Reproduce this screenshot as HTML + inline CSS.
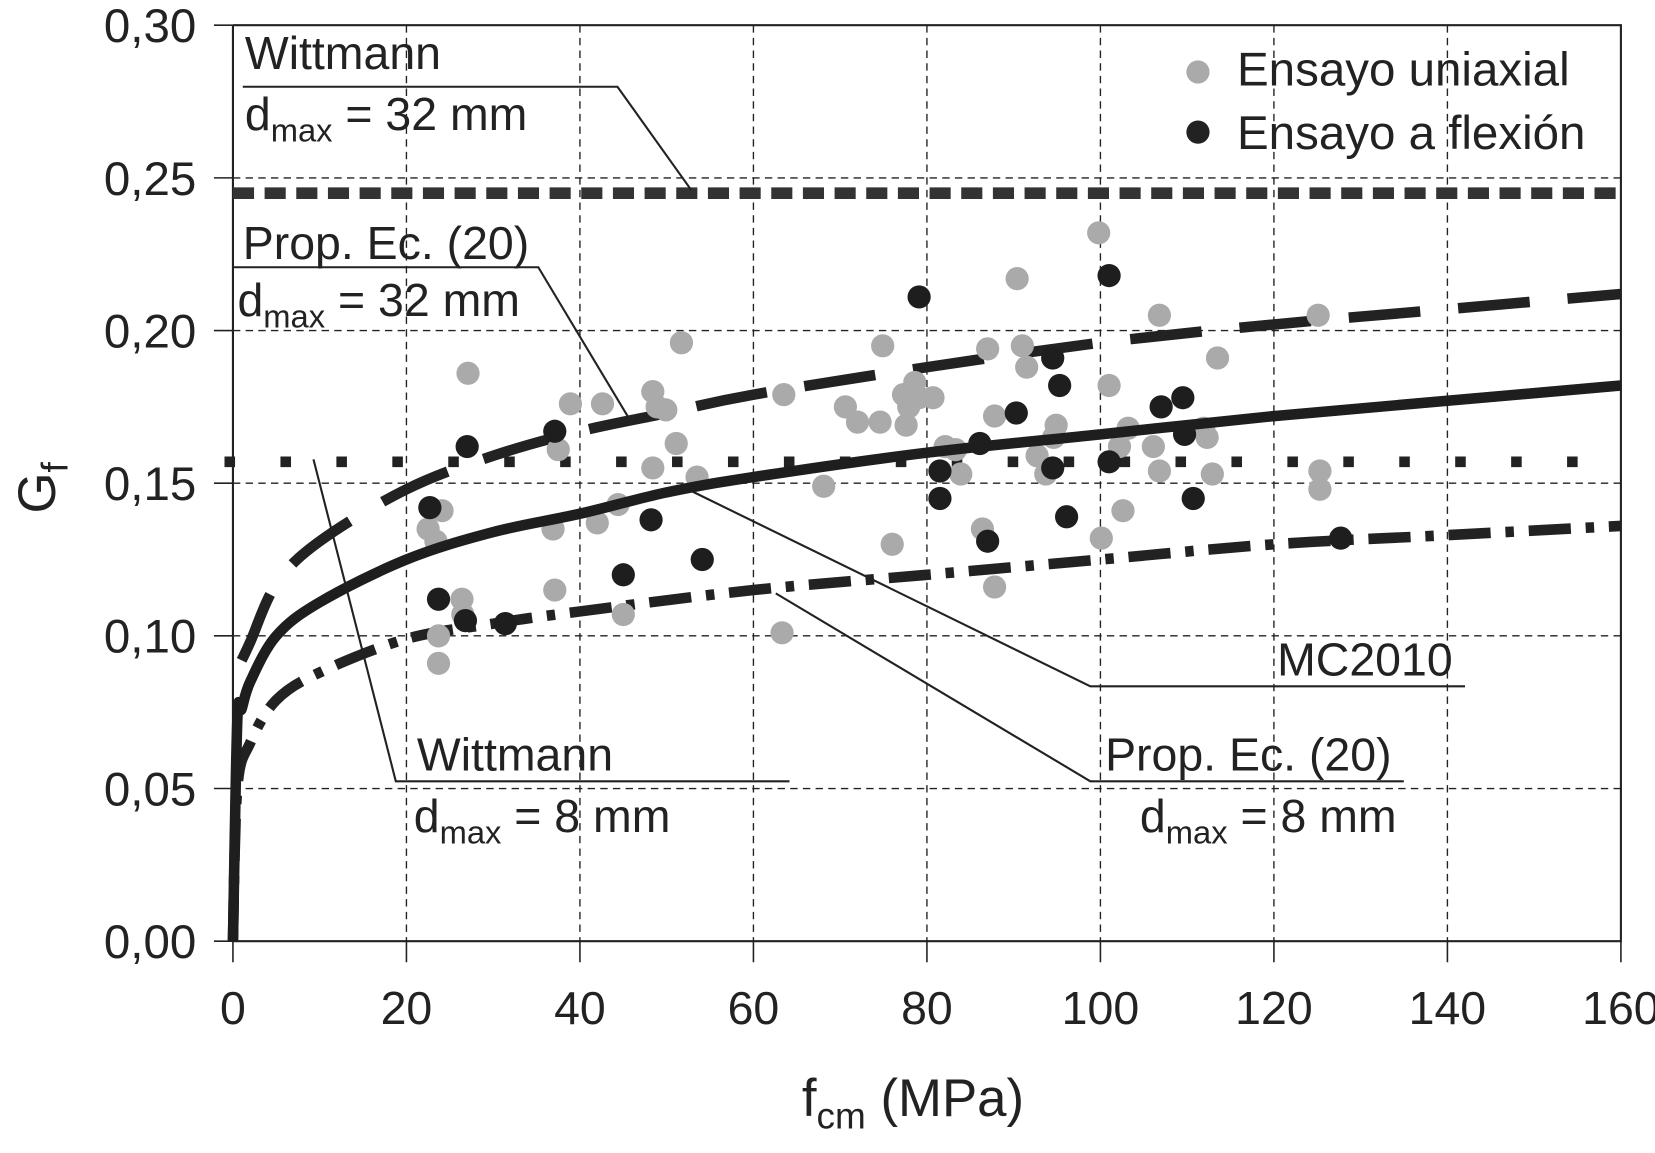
<!DOCTYPE html>
<html><head><meta charset="utf-8"><style>
html,body{margin:0;padding:0;background:#fff}
svg{display:block}
text{font-family:"Liberation Sans",Arial,sans-serif;fill:#222}
</style></head><body>
<svg id="chart" width="1655" height="1153" viewBox="0 0 1568 1092" xmlns="http://www.w3.org/2000/svg">
<g id="grid"></g>
<g id="axes"></g>
<g id="curves"></g>
<g id="points"></g>
<g id="annot">
  <text x="232" y="65" font-size="44">Wittmann</text>
  <text x="232" y="123" font-size="44">d<tspan font-size="31" dy="11">max</tspan><tspan dy="-11"> = 32 mm</tspan></text>
  <polyline points="230,82 585,82 655,180" fill="none" stroke="#222" stroke-width="2"/>
  <text x="230" y="245" font-size="44">Prop. Ec. (20)</text>
  <text x="225" y="299" font-size="44">d<tspan font-size="31" dy="11">max</tspan><tspan dy="-11"> = 32 mm</tspan></text>
  <polyline points="220,253 510,253 597,398" fill="none" stroke="#222" stroke-width="2"/>
  <text x="395" y="730" font-size="44">Wittmann</text>
  <text x="392" y="788" font-size="44">d<tspan font-size="31" dy="11">max</tspan><tspan dy="-11"> = 8 mm</tspan></text>
  <polyline points="748,740 375,740 297,435" fill="none" stroke="#222" stroke-width="2"/>
  <text x="1210" y="640" font-size="44">MC2010</text>
  <polyline points="1388,650 1033,650 655,465" fill="none" stroke="#222" stroke-width="2"/>
  <text x="1047" y="730" font-size="44">Prop. Ec. (20)</text>
  <text x="1080" y="788" font-size="44">d<tspan font-size="31" dy="11">max</tspan><tspan dy="-11"> = 8 mm</tspan></text>
  <polyline points="1330,740 1033,740 735,562" fill="none" stroke="#222" stroke-width="2"/>
</g>
<g id="legend">
  <circle cx="1135" cy="68" r="11" fill="#aaa"/>
  <text x="1172" y="81" font-size="45">Ensayo uniaxial</text>
  <circle cx="1135" cy="125" r="11" fill="#222"/>
  <text x="1172" y="141" font-size="45">Ensayo a flexión</text>
</g>
</svg>
<script>
const xTicks=[0,20,40,60,80,100,120,140,160];
const yTicks=[0,0.05,0.10,0.15,0.20,0.25,0.30];
const yTickLabels=["0,00","0,05","0,10","0,15","0,20","0,25","0,30"];
const uniX=[22.5,24.1,23.4,23.7,23.7,27.1,26.4,26.5,37.5,36.9,37.1,38.9,42,42.6,44.4,45,48.4,48.9,49.9,48.4,51.7,51.1,53.5,63.5,63.3,68.1,70.6,72,74.9,74.6,76,77.3,77.9,77.6,78.6,79.1,80.7,82.1,83.3,83.9,86.4,87,87.8,87.8,90.4,91,91.5,92.7,93.7,94.9,94.6,99.8,100.1,101,102.2,102.6,103.2,106.8,106.1,106.8,111.9,112.3,113.5,112.9,125.1,125.3,125.3];
const uniY=[.135,.141,.131,.100,.091,.186,.112,.107,.161,.135,.115,.176,.137,.176,.143,.107,.180,.175,.174,.155,.196,.163,.152,.179,.101,.149,.175,.170,.195,.170,.130,.179,.175,.169,.183,.178,.178,.162,.161,.153,.135,.194,.116,.172,.217,.195,.188,.159,.153,.169,.165,.232,.132,.182,.162,.141,.168,.205,.162,.154,.168,.165,.191,.153,.205,.154,.148];
const flexX=[22.7,23.7,26.8,27,31.4,37.1,45,48.2,54.1,79.1,81.5,81.5,86.1,87,90.3,94.5,95.3,96.1,94.5,101,101,107,109.5,109.7,110.7,127.7];
const flexY=[.142,.112,.105,.162,.104,.167,.120,.138,.125,.211,.154,.145,.163,.131,.173,.191,.182,.139,.155,.218,.157,.175,.178,.166,.145,.132];
const mcX=[0,0.5,1,2,5,10,20,30,40,50,60,80,100,120,140,160];
const mcY=[0,0.072,0.076,0.085,0.100,0.111,0.125,0.134,0.140,0.147,0.152,0.160,0.166,0.172,0.177,0.182];
const p32X=[1,2,5,10,20,30,40,50,60,80,100,120,140,160];
const p32Y=[0.092,0.098,0.117,0.131,0.148,0.159,0.167,0.173,0.179,0.188,0.196,0.202,0.207,0.212];
const p8X=[0,0.5,2,5,10,20,30,40,60,80,100,120,140,160];
const p8Y=[0,0.05,0.065,0.079,0.088,0.099,0.104,0.108,0.115,0.120,0.125,0.130,0.133,0.136];
const w32Y=[0.245];
const w8Y=[0.157];

const NS="http://www.w3.org/2000/svg";
const X0=220.7,X1=1535.7,Y0=891.5,Y1=23.7;
const sx=v=>X0+(v-0)/(160-0)*(X1-X0);
const sy=v=>Y0-(v-0)/(0.30-0)*(Y0-Y1);
function mk(tag,attrs,parent){const e=document.createElementNS(NS,tag);for(const k in attrs)e.setAttribute(k,attrs[k]);parent.appendChild(e);return e;}
const grid=document.getElementById('grid'),axes=document.getElementById('axes'),curves=document.getElementById('curves'),points=document.getElementById('points');

xTicks.forEach((t,i)=>{
  if(i>0&&i<xTicks.length-1){const l=mk('line',{x1:sx(t),x2:sx(t),y1:Y1,y2:Y0,stroke:'#222','stroke-width':1.3,'stroke-dasharray':'7,5'},grid);
  
  }
  const tk=mk('line',{x1:sx(t),x2:sx(t),y1:Y0,y2:Y0+20,stroke:'#222','stroke-width':1.5},axes);
  
  
  const tx=mk('text',{x:sx(t),y:970,'font-size':44,'text-anchor':'middle'},axes);tx.textContent=t;
  
  
});
yTicks.forEach((t,i)=>{
  if(i>0&&i<yTicks.length-1){const l=mk('line',{x1:X0,x2:X1,y1:sy(t),y2:sy(t),stroke:'#222','stroke-width':1.3,'stroke-dasharray':'7,5'},grid);
  
  }
  const tk=mk('line',{x1:X0-18,x2:X0,y1:sy(t),y2:sy(t),stroke:'#222','stroke-width':1.5},axes);
  
  
  const tx=mk('text',{x:186,y:sy(t)+16,'font-size':45,'text-anchor':'end'},axes);tx.textContent=yTickLabels[i];
  
  
});
const fr=mk('polyline',{points:`${X0},${Y1} ${X0},${Y0} ${X1},${Y0} ${X1},${Y1} ${X0},${Y1}`,fill:'none',stroke:'#222','stroke-width':2},axes);


const xt=mk('text',{x:865,y:1057,'font-size':50,'text-anchor':'middle'},axes);
xt.innerHTML='f<tspan font-size="35" dy="12">cm</tspan><tspan dy="-12"> (MPa)</tspan>';


const yt=mk('text',{x:0,y:0,'font-size':50,'text-anchor':'middle',transform:'translate(52,462) rotate(-90)'},axes);
yt.innerHTML='G<tspan font-size="35" dy="12">f</tspan>';



function path(xs,ys){
  const P=xs.map((x,i)=>[sx(x),sy(ys[i])]);
  let d='M'+P[0][0].toFixed(1)+','+P[0][1].toFixed(1);
  for(let i=0;i<P.length-1;i++){
    const p0=P[Math.max(0,i-1)],p1=P[i],p2=P[i+1],p3=P[Math.min(P.length-1,i+2)];
    const c1=[p1[0]+(p2[0]-p0[0])/6,p1[1]+(p2[1]-p0[1])/6];
    const c2=[p2[0]-(p3[0]-p1[0])/6,p2[1]-(p3[1]-p1[1])/6];
    d+=` C${c1[0].toFixed(1)},${c1[1].toFixed(1)} ${c2[0].toFixed(1)},${c2[1].toFixed(1)} ${p2[0].toFixed(1)},${p2[1].toFixed(1)}`;
  }
  return d;
}
const w32=mk('line',{x1:X0,x2:X1,y1:sy(w32Y[0]),y2:sy(w32Y[0]),stroke:'#333','stroke-width':11,'stroke-dasharray':'20,10'},curves);


const w8=mk('line',{x1:X0-8,x2:1500,y1:sy(w8Y[0]),y2:sy(w8Y[0]),stroke:'#222','stroke-width':10,'stroke-dasharray':'10,43'},curves);


const c32=mk('path',{d:path(p32X,p32Y),fill:'none',stroke:'#222','stroke-width':10,'stroke-dasharray':'68,36'},curves);


const c8=mk('path',{d:path(p8X,p8Y),fill:'none',stroke:'#222','stroke-width':10,'stroke-dasharray':'40,14,8,14'},curves);



uniX.forEach((x,i)=>{const c=mk('circle',{cx:sx(x),cy:sy(uniY[i]),r:11,fill:'#aaa'},points);
  
  });
flexX.forEach((x,i)=>{const c=mk('circle',{cx:sx(x),cy:sy(flexY[i]),r:11,fill:'#1e1e1e'},points);
  
  });
const mc=mk('path',{d:path(mcX,mcY),fill:'none',stroke:'#1e1e1e','stroke-width':10},points);


</script>
</body></html>
